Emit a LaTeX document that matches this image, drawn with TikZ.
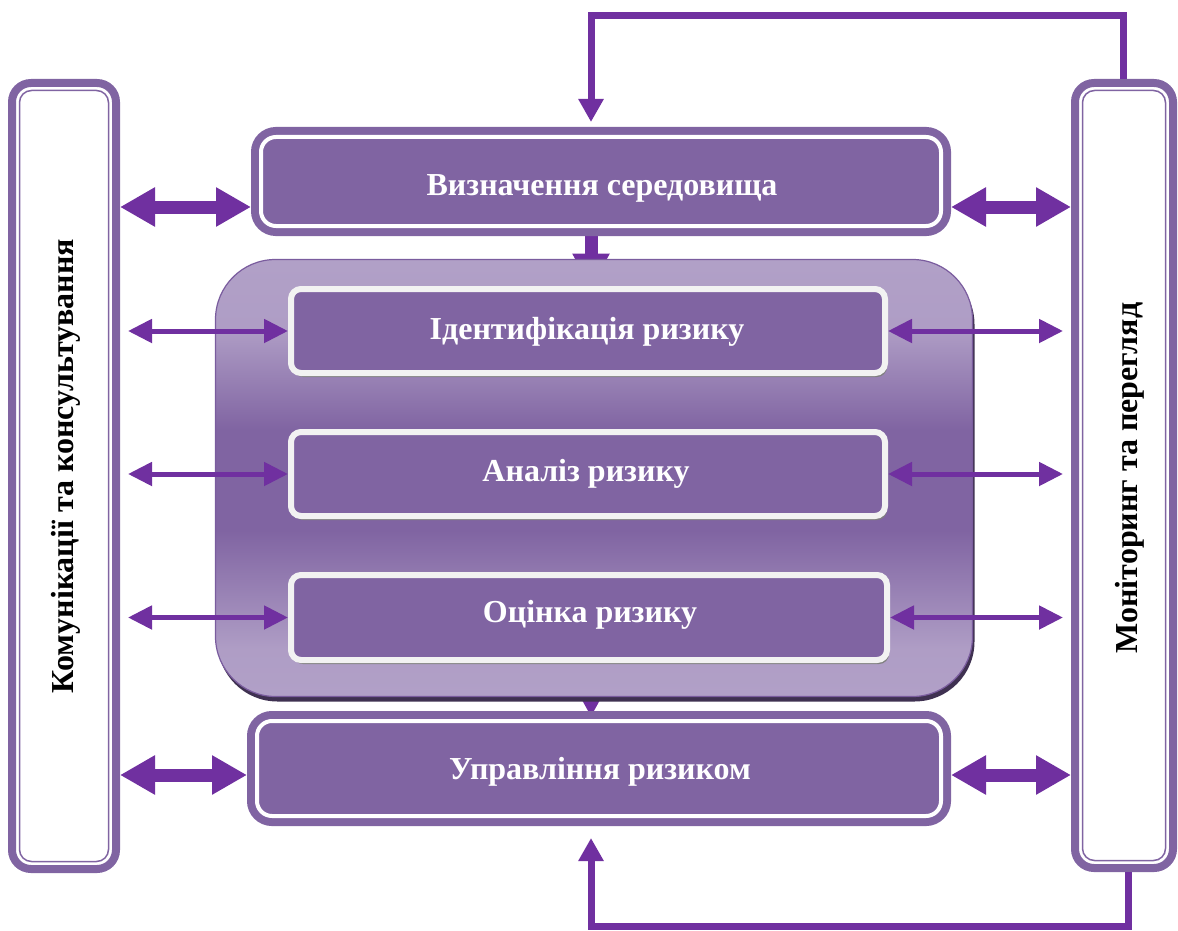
\documentclass[tikz,border=0pt]{standalone}
\usepackage{fontspec}
\setmainfont{Liberation Serif}
\usetikzlibrary{arrows.meta,calc,shadows}

\definecolor{bp}{HTML}{8064A2}
\definecolor{ap}{HTML}{7030A0}
\definecolor{cl}{HTML}{B1A0C7}
\definecolor{cd}{HTML}{8064A2}
\definecolor{shd}{HTML}{3F3151}
\definecolor{wb}{HTML}{F2F2F2}
\definecolor{cbord}{HTML}{7A5C9E}

% the path is mapped onto 25bp..75bp of the shading
\pgfdeclareverticalshading{contshade}{100bp}{color(0bp)=(cl); color(25bp)=(cl); color(30.5bp)=(cl!95!cd); color(44bp)=(cd); color(55.5bp)=(cd); color(67bp)=(cl!95!cd); color(75bp)=(cl); color(100bp)=(cl)}

\pgfdeclarelayer{bg}
\pgfsetlayers{bg,main}

\tikzset{
  mainbox/.style={fill=bp, draw=bp, double=white, double distance=4pt, line width=8pt,
    rounded corners=15pt, outer sep=10pt, inner sep=0pt},
  sidebox/.style={fill=white, draw=bp, line width=8pt, rounded corners=19pt, outer sep=4pt, inner sep=0pt},
  inbox/.style={fill=bp, draw=wb, line width=6pt, rounded corners=10pt, outer sep=3pt, inner sep=0pt,
    drop shadow={shadow xshift=2pt, shadow yshift=-4pt, fill=black!50, opacity=1}},
  container/.style={shade, shading=contshade, draw=cbord, line width=1.2pt, rounded corners=60pt,
    inner sep=0pt, outer sep=0pt,
    drop shadow={shadow xshift=2pt, shadow yshift=-5pt, fill=shd, opacity=1}},
  boxtext/.style={text=white, font=\bfseries\fontsize{32}{38}\selectfont, inner sep=0pt, anchor=base},
  sidetext/.style={text=black, font=\bfseries\fontsize{32}{38}\selectfont, inner sep=0pt, anchor=base, rotate=90},
  bigarr/.style={draw=ap, line width=13pt, {Triangle[length=35pt,width=37pt]}-{Triangle[length=35pt,width=37pt]}},
  thinarr/.style={draw=ap, line width=5pt, {Triangle[length=24pt,width=23pt]}-{Triangle[length=24pt,width=23pt]}},
  downarr/.style={draw=ap, line width=13pt, -{Triangle[length=35pt,width=35pt]}},
  fbline/.style={draw=ap, line width=7pt, line join=miter, -{Triangle[length=23pt,width=24pt]}},
}

\begin{document}
\begin{tikzpicture}[x=1pt,y=-1pt]
\useasboundingbox (0,0) rectangle (1178,931);

% side boxes
\node[sidebox, minimum width=104pt, minimum height=786pt] (L) at (64,476) {};
\draw[bp, line width=1.5pt, rounded corners=12pt] ([xshift=11.5pt,yshift=-11.5pt]L.north west) rectangle ([xshift=-11.5pt,yshift=11.5pt]L.south east);
\node[sidebox, minimum width=98pt, minimum height=785pt] (R) at (1124,475.5) {};
\draw[bp, line width=1.5pt, rounded corners=12pt] ([xshift=11.5pt,yshift=-11.5pt]R.north west) rectangle ([xshift=-11.5pt,yshift=11.5pt]R.south east);
\node[sidetext] (Ltext) at (73,466) {Комунікації та консультування};
\node[sidetext] (Rtext) at (1137,478) {Моніторинг та перегляд};

% top and bottom boxes
\node[mainbox, minimum width=680pt, minimum height=89pt] (T) at (601,181.5) {};
\node[mainbox, minimum width=684pt, minimum height=95pt] (M) at (599,768.5) {};
\node[boxtext] (Ttext) at (602,195) {Визначення середовища};
\node[boxtext] (Mtext) at (600,779) {Управління ризиком};

% container
\node[container, minimum width=757pt, minimum height=437pt] (C) at (594,478) {};

% short arrows hidden partly behind container / box
\begin{pgfonlayer}{bg}
\draw[downarr, shorten >=-29pt] (T.south -| 591,0) -- (C.north -| 591,0);
\draw[downarr, shorten >=-6pt] (C.south -| 591,0) -- (M.north -| 591,0);
\end{pgfonlayer}

% inner boxes
\node[inbox, minimum width=594pt, minimum height=84pt] (I1) at (588,331) {};
\node[inbox, minimum width=594pt, minimum height=84pt] (I2) at (588,474) {};
\node[inbox, minimum width=596pt, minimum height=85pt] (I3) at (589,617.5) {};
\node[boxtext] (I1text) at (587,339) {Ідентифікація ризику};
\node[boxtext] (I2text) at (586,481) {Аналіз ризику};
\node[boxtext] (I3text) at (590,622) {Оцінка ризику};

% coordinates for arrow levels
\coordinate (y1) at (0,207);
\coordinate (y2) at (0,775);

% thick double arrows
\draw[bigarr] (L.east |- y1) -- (T.west |- y1);
\draw[bigarr] (T.east |- y1) -- (R.west |- y1);
\draw[bigarr] (L.east |- y2) -- (M.west |- y2);
\draw[bigarr] (M.east |- y2) -- (R.west |- y2);

% thin double arrows
\draw[thinarr, shorten <=8pt] (L.east |- I1.west) -- (I1.west);
\draw[thinarr, shorten <=8pt] (L.east |- I2.west) -- (I2.west);
\draw[thinarr, shorten <=8pt] (L.east |- I3.west) -- (I3.west);
\draw[thinarr, shorten >=8pt] (I1.east) -- (R.west |- I1.east);
\draw[thinarr, shorten >=8pt] (I2.east) -- (R.west |- I2.east);
\draw[thinarr, shorten >=8pt] (I3.east) -- (R.west |- I3.east);

% feedback loops
\coordinate (ta) at (1123,15.5);
\coordinate (tb) at (591,15.5);
\draw[fbline, shorten >=5pt] (R.north -| ta) -- (ta) -- (tb) -- (T.north -| tb);
\coordinate (ba) at (1128,926.5);
\coordinate (bb) at (591,926.5);
\draw[fbline, shorten >=12pt] (R.south -| ba) -- (ba) -- (bb) -- (M.south -| bb);
\end{tikzpicture}
\end{document}
